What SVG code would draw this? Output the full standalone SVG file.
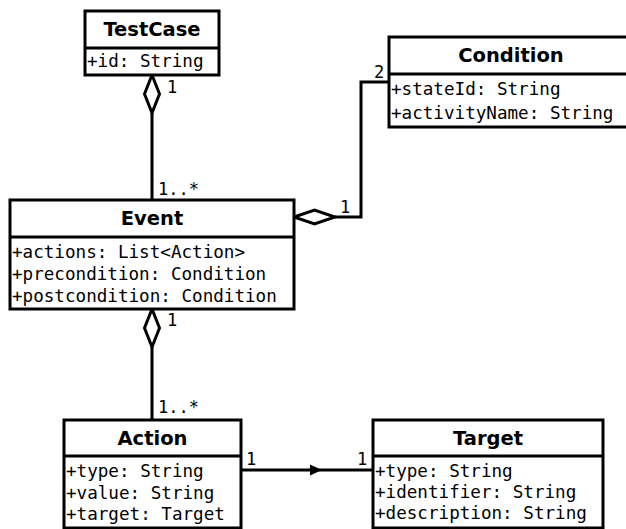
<svg xmlns="http://www.w3.org/2000/svg" width="626" height="529" viewBox="0 0 626 529">
<style>
.box{fill:#fff;stroke:#000;stroke-width:3}
.div{stroke:#000;stroke-width:3}
.hdr{font-family:"DejaVu Sans",sans-serif;font-weight:bold;font-size:19.5px;text-anchor:middle;fill:#000}
.attr{font-family:"DejaVu Sans Mono",monospace;font-size:17.6px;fill:#000}
.mult{font-family:"DejaVu Sans Mono",monospace;font-size:17px;fill:#000}
.ln{fill:none;stroke:#000;stroke-width:3}
.dia{fill:#fff;stroke:#000;stroke-width:3}
</style>
<g id="connectors">
<line class="ln" x1="152" y1="113" x2="152" y2="200"/>
<polygon class="dia" points="152,75 159.5,94 152,113 144.5,94"/>
<text class="mult" x="167" y="93">1</text>
<text class="mult" x="158" y="195">1..*</text>
<polyline class="ln" points="389,82 361,82 361,217 335,217"/>
<polygon class="dia" points="294,217 314.5,210 335,217 314.5,224"/>
<text class="mult" x="374" y="78">2</text>
<text class="mult" x="340" y="213">1</text>
<line class="ln" x1="152" y1="347" x2="152" y2="420"/>
<polygon class="dia" points="152,309 159.5,328 152,347 144.5,328"/>
<text class="mult" x="167" y="326">1</text>
<text class="mult" x="158" y="413">1..*</text>
<line class="ln" x1="241" y1="470" x2="373" y2="470"/>
<polygon points="310,464.5 322,470 310,475.5" fill="#000"/>
<text class="mult" x="246" y="465">1</text>
<text class="mult" x="357" y="465">1</text>
</g>
<g id="TestCase">
<rect class="box" x="85" y="11" width="134" height="64"/>
<line class="div" x1="85" y1="48" x2="219" y2="48"/>
<text class="hdr" x="152" y="36">TestCase</text>
<text class="attr" x="87" y="67">+id: String</text>
</g>
<g id="Condition">
<rect class="box" x="389" y="37" width="240" height="90"/>
<line class="div" x1="389" y1="74" x2="629" y2="74"/>
<text class="hdr" x="511" y="62">Condition</text>
<text class="attr" x="391" y="95">+stateId: String</text>
<text class="attr" x="391" y="119">+activityName: String</text>
</g>
<g id="Event">
<rect class="box" x="10" y="200" width="284" height="109"/>
<line class="div" x1="10" y1="237" x2="294" y2="237"/>
<text class="hdr" x="152" y="225">Event</text>
<text class="attr" x="12" y="258">+actions: List&lt;Action&gt;</text>
<text class="attr" x="12" y="280">+precondition: Condition</text>
<text class="attr" x="12" y="302">+postcondition: Condition</text>
</g>
<g id="Action">
<rect class="box" x="64" y="420" width="177" height="108"/>
<line class="div" x1="64" y1="456" x2="241" y2="456"/>
<text class="hdr" x="152.5" y="445">Action</text>
<text class="attr" x="66" y="477">+type: String</text>
<text class="attr" x="66" y="499">+value: String</text>
<text class="attr" x="66" y="520">+target: Target</text>
</g>
<g id="Target">
<rect class="box" x="373" y="420" width="230" height="108"/>
<line class="div" x1="373" y1="456" x2="603" y2="456"/>
<text class="hdr" x="488" y="445">Target</text>
<text class="attr" x="375" y="477">+type: String</text>
<text class="attr" x="375" y="498">+identifier: String</text>
<text class="attr" x="375" y="519">+description: String</text>
</g>
</svg>
